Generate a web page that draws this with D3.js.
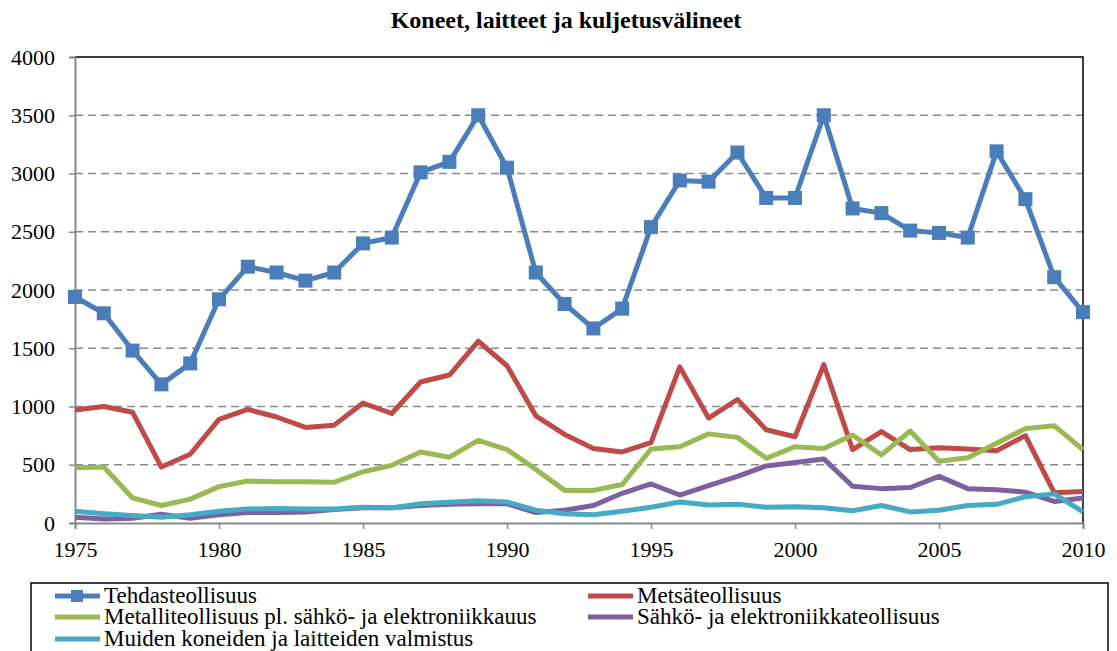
<!DOCTYPE html>
<html>
<head>
<meta charset="utf-8">
<script src="https://cdn.jsdelivr.net/npm/d3@7"></script>
<style>
  body { margin: 0; background: #fff; }
  svg text { font-family: "Liberation Serif", "Times New Roman", Times, serif; }
</style>
</head>
<body>
<svg id="chart"></svg>
<script>
const years = d3.range(1975, 2011);
const seriesNames = [
  "Tehdasteollisuus",
  "Metsäteollisuus",
  "Metalliteollisuus pl. sähkö- ja elektroniikkauus",
  "Sähkö- ja elektroniikkateollisuus",
  "Muiden koneiden ja laitteiden valmistus"
];
const tehdas = [1940, 1800, 1480, 1190, 1370, 1920, 2200, 2150, 2080, 2150, 2400, 2450, 3010, 3100, 3500, 3050, 2150, 1880, 1670, 1840, 2540, 2940, 2930, 3180, 2790, 2790, 3500, 2700, 2660, 2510, 2490, 2450, 3190, 2780, 2110, 1810];
const metsa = [970, 1000, 950, 480, 590, 890, 975, 910, 820, 840, 1030, 940, 1210, 1270, 1560, 1350, 920, 760, 640, 610, 690, 1340, 900, 1060, 800, 740, 1360, 630, 785, 630, 645, 635, 620, 750, 260, 270];
const metalli = [475, 480, 215, 150, 205, 312, 360, 355, 355, 350, 440, 495, 610, 565, 710, 630, 460, 280, 280, 330, 635, 655, 765, 735, 555, 655, 640, 755, 585, 790, 530, 560, 685, 810, 835, 630];
const sahko = [50, 35, 40, 75, 40, 70, 90, 90, 95, 115, 130, 130, 150, 160, 165, 165, 90, 110, 150, 255, 335, 240, 320, 400, 490, 520, 550, 315, 295, 305, 400, 295, 285, 265, 185, 215];
const muiden = [100, 80, 65, 50, 70, 100, 120, 125, 120, 120, 135, 130, 166, 178, 190, 180, 110, 80, 70, 100, 135, 180, 155, 160, 135, 140, 130, 105, 150, 95, 110, 150, 160, 225, 250, 95];
const colors = ["#4A7EBB", "#BE4B48", "#98B954", "#7D60A0", "#46AAC5"];
const yTicks = [0, 500, 1000, 1500, 2000, 2500, 3000, 3500, 4000];
const xTicks = [1975, 1980, 1985, 1990, 1995, 2000, 2005, 2010];

const serif = "'Liberation Serif', 'Times New Roman', Times, serif";
const width = 1117, height = 651;
const svg = d3.select("#chart").attr("width", width).attr("height", height);
const margin = { top: 57, left: 75, right: 34, bottom: 128 };
const innerWidth = width - margin.left - margin.right;
const innerHeight = height - margin.top - margin.bottom;

const xScale = d3.scaleLinear().domain([1975, 2010]).range([0, innerWidth]);
const yScale = d3.scaleLinear().domain([0, 4000]).range([innerHeight, 0]);

// Title
svg.append("text")
  .attr("x", 566).attr("y", 28)
  .attr("text-anchor", "middle")
  .attr("font-family", serif)
  .attr("font-size", "24px").attr("font-weight", "bold")
  .text("Koneet, laitteet ja kuljetusvälineet");

const g = svg.append("g").attr("transform", `translate(${margin.left},${margin.top})`);

// Gridlines
g.append("g").selectAll("line")
  .data(yTicks.filter((d) => d > 0 && d < 4000))
  .join("line")
  .attr("x1", 0).attr("x2", innerWidth)
  .attr("y1", (d) => yScale(d)).attr("y2", (d) => yScale(d))
  .attr("stroke", "#8a8a8a").attr("stroke-width", 1.3)
  .attr("stroke-dasharray", "8,5");

// Top and right border
g.append("path")
  .attr("d", `M0,${yScale(4000)}H${innerWidth}V${innerHeight}`)
  .attr("fill", "none").attr("stroke", "#000").attr("stroke-width", 1.5);

// y-Axis
const yAxis = d3.axisLeft(yScale).tickValues(yTicks).tickSize(6).tickPadding(14).tickFormat(d3.format("d"));
const yAxisG = g.append("g").call(yAxis).attr("font-family", serif).attr("font-size", 22);
yAxisG.select(".domain").attr("stroke", "#888").attr("stroke-width", 2);
yAxisG.selectAll(".tick line").attr("stroke", "#888").attr("stroke-width", 1.5);
yAxisG.selectAll(".tick text").attr("fill", "#000");

// x-Axis
const xAxis = d3.axisBottom(xScale).tickValues(xTicks).tickSize(6).tickPadding(12).tickFormat(d3.format("d"));
const xAxisG = g.append("g").attr("transform", `translate(0,${innerHeight})`).call(xAxis)
  .attr("font-family", serif).attr("font-size", 22);
xAxisG.select(".domain").attr("stroke", "#888").attr("stroke-width", 2);
xAxisG.selectAll(".tick line").attr("stroke", "#888").attr("stroke-width", 1.5);
xAxisG.selectAll(".tick text").attr("fill", "#000");

// Lines
const allSeries = [tehdas, metsa, metalli, sahko, muiden];
const lineGen = d3.line()
  .x((d, i) => xScale(years[i]))
  .y((d) => yScale(d));

allSeries.forEach((vals, k) => {
  g.append("path")
    .attr("d", lineGen(vals))
    .attr("fill", "none")
    .attr("stroke", colors[k])
    .attr("stroke-width", 5)
    .attr("stroke-linejoin", "round");
});

// Markers for first series
g.append("g").selectAll("rect")
  .data(tehdas)
  .join("rect")
  .attr("x", (d, i) => xScale(years[i]) - 7)
  .attr("y", (d) => yScale(d) - 7)
  .attr("width", 14).attr("height", 14)
  .attr("fill", colors[0]);

// Legend
const legend = svg.append("g").attr("font-family", serif).attr("font-size", 23);
legend.append("rect")
  .attr("x", 31).attr("y", 583)
  .attr("width", 1077).attr("height", 80)
  .attr("fill", "#fff").attr("stroke", "#000").attr("stroke-width", 1.5);

const legendPos = [
  [55, 596], [588, 596],
  [55, 617], [588, 617],
  [55, 639]
];
seriesNames.forEach((name, k) => {
  const [lx, ly] = legendPos[k];
  legend.append("line")
    .attr("x1", lx).attr("x2", lx + 45)
    .attr("y1", ly).attr("y2", ly)
    .attr("stroke", colors[k]).attr("stroke-width", 5);
  if (k === 0) {
    legend.append("rect")
      .attr("x", lx + 22 - 6).attr("y", ly - 6)
      .attr("width", 12).attr("height", 12)
      .attr("fill", colors[0]);
  }
  legend.append("text")
    .attr("x", lx + 49).attr("y", ly + 7)
    .text(name);
});
</script>
</body>
</html>
